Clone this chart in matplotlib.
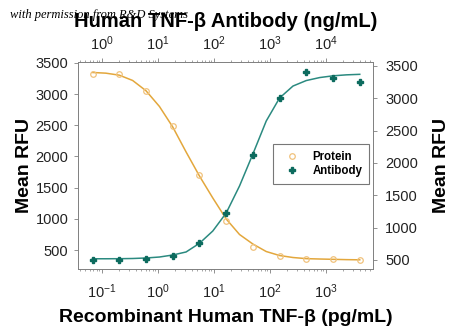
import matplotlib
matplotlib.use("Agg")
import matplotlib.pyplot as plt
from matplotlib.ticker import LogLocator, NullFormatter, FixedLocator

plt.rcParams['font.family'] = ['Liberation Sans', 'DejaVu Sans']
plt.rcParams['mathtext.fontset'] = 'custom'
plt.rcParams['mathtext.rm'] = 'Liberation Sans'

# protein titration (pg/mL) and antibody titration (ng/mL), 3-fold steps
protein_conc = [0.0677, 0.203, 0.610, 1.83, 5.49, 16.5, 49.4, 148, 444, 1333, 4000]
protein_rfu = [3316, 3321, 3048, 2487, 1702, 970, 543, 412, 361, 351, 340]

antibody_conc = [0.677, 2.03, 6.10, 18.3, 54.9, 165, 494, 1481, 4444, 13333, 40000]
antibody_rfu = [500, 500, 520, 566, 758, 1222, 2124, 3000, 3402, 3319, 3257]

# fitted curves, read at half-step concentrations
protein_fit_conc = [0.0677, 0.117, 0.203, 0.352, 0.610, 1.06, 1.83, 3.17, 5.49,
                    9.50, 16.5, 28.5, 49.4, 85.5, 148, 257, 444, 770, 1333, 2309, 4000]
protein_fit_rfu = [3345, 3334, 3302, 3217, 3052, 2800, 2472, 2071, 1686, 1334, 997,
                   749, 596, 476, 412, 380, 362, 356, 351, 346, 343]

antibody_fit_conc = [c * 10 for c in protein_fit_conc]
antibody_fit_rfu = [519, 519, 520, 523, 531, 546, 577, 624, 758, 948, 1227,
                    1644, 2139, 2649, 3005, 3190, 3275, 3321, 3348, 3363, 3371]

protein_line = "#E3A73C"
protein_mark = "#F0C27C"
antibody_line = "#2B8A80"
antibody_mark = "#0C6B5E"
grey = "#7F7F7F"

fig = plt.figure(figsize=(4.5, 3.33), dpi=100)
rect = [0.1733, 0.1907, 0.6550, 0.6222]

# bottom / left axes: recombinant protein
ax = fig.add_axes(rect)
ax.set_xscale("log")
ax.plot(protein_fit_conc, protein_fit_rfu, color=protein_line, lw=1.1, zorder=2)
ax.plot(protein_conc, protein_rfu, "o", ms=4, mfc="none", mec=protein_mark,
        mew=0.9, zorder=3, label="Protein")
ax.set_xlim(0.0372, 6823)
ax.set_ylim(188, 3508)
ax.yaxis.set_major_locator(FixedLocator([500, 1000, 1500, 2000, 2500, 3000, 3500]))
ax.xaxis.set_major_locator(LogLocator(base=10))
ax.xaxis.set_minor_locator(LogLocator(base=10, subs=range(2, 10)))
ax.xaxis.set_minor_formatter(NullFormatter())
ax.tick_params(axis="both", which="major", direction="out", length=3, width=0.6,
               color=grey, labelsize=10.5, labelcolor="#222222")
ax.tick_params(axis="x", which="minor", direction="out", length=1.5, width=0.5,
               color=grey)
ax.tick_params(axis="x", pad=6)
ax.tick_params(axis="y", pad=4)
for s in ax.spines.values():
    s.set_color(grey)
    s.set_linewidth(0.7)
ax.set_xlabel("Recombinant Human TNF-\u03b2 (pg/mL)", fontsize=14,
              fontweight="bold", labelpad=6)
ax.set_ylabel("Mean RFU", fontsize=14, fontweight="bold", labelpad=2)

# top / right axes: neutralizing antibody
ab = fig.add_axes(rect, frameon=False)
ab.set_xscale("log")
ab.plot(antibody_fit_conc, antibody_fit_rfu, color=antibody_line, lw=1.1, zorder=2)
ab.plot(antibody_conc, antibody_rfu, "P", ms=5, color=antibody_mark,
        mec=antibody_mark, zorder=3, label="Antibody")
ab.set_xlim(0.372, 68230)
ab.set_ylim(353, 3557)
ab.xaxis.tick_top()
ab.xaxis.set_label_position("top")
ab.yaxis.tick_right()
ab.yaxis.set_label_position("right")
ab.yaxis.set_major_locator(FixedLocator([500, 1000, 1500, 2000, 2500, 3000, 3500]))
ab.xaxis.set_major_locator(LogLocator(base=10))
ab.xaxis.set_minor_locator(LogLocator(base=10, subs=range(2, 10)))
ab.xaxis.set_minor_formatter(NullFormatter())
ab.tick_params(axis="both", which="major", direction="out", length=3, width=0.6,
               color=grey, labelsize=10.5, labelcolor="#222222")
ab.tick_params(axis="x", which="minor", direction="out", length=1.5, width=0.5,
               color=grey)
ab.tick_params(axis="x", pad=4)
ab.tick_params(axis="y", pad=6)
ab.set_xlabel("Human TNF-\u03b2 Antibody (ng/mL)", fontsize=14.5,
              fontweight="bold", labelpad=5)
ab.set_ylabel("Mean RFU", fontsize=14, fontweight="bold", labelpad=11)

handles = ax.get_legend_handles_labels()[0] + ab.get_legend_handles_labels()[0]
leg = ab.legend(handles, ["Protein", "Antibody"], loc="upper left",
                bbox_to_anchor=(0.607, 0.5676), bbox_transform=fig.transFigure,
                frameon=True, fancybox=False, borderpad=0.6, handlelength=2.0,
                handletextpad=0.8, labelspacing=0.2, borderaxespad=0,
                prop={"weight": "bold", "size": 8.3})
leg.get_frame().set_edgecolor("#555555")
leg.get_frame().set_linewidth(0.8)

fig.text(0.022, 0.955, "with permission from R&D Systems", family="Liberation Serif",
         style="italic", fontsize=9, color="black", va="center", ha="left")

fig.savefig("out.png", dpi=100)
